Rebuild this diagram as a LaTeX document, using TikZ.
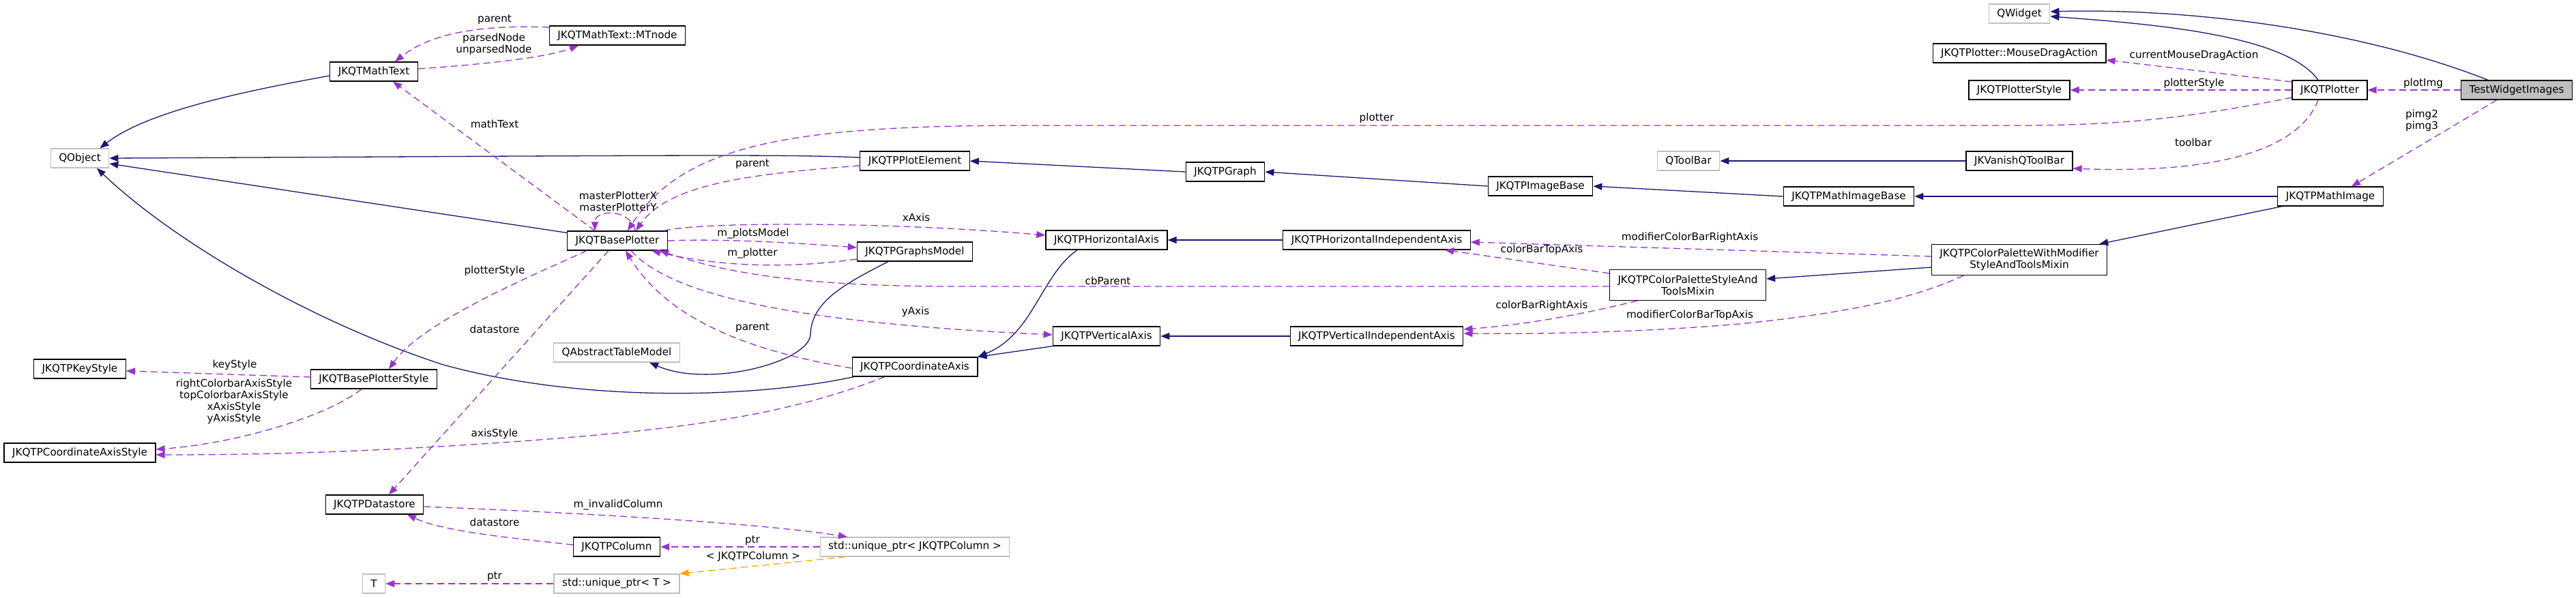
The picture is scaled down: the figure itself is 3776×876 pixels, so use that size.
\documentclass[tikz,border=0pt]{standalone}
\usepackage{fontspec}
\newfontfamily\dvsans{DejaVu Sans}
\usetikzlibrary{arrows.meta}
\definecolor{inhblue}{HTML}{191970}
\definecolor{usepurple}{HTML}{9A32CD}
\definecolor{tplorange}{HTML}{FFA500}
\definecolor{undocgrey}{HTML}{BFBFBF}
\newcommand{\dotfont}{\dvsans\fontsize{15.2}{17}\selectfont}
\begin{document}
\begin{tikzpicture}[x=1pt,y=-1pt,every node/.style={font=\dotfont},
  cls/.style={draw=black,line width=1.3pt,fill=white,minimum height=28pt,inner xsep=12pt,inner ysep=2pt,align=center},
  twoline/.style={cls,minimum height=45pt},
  undoc/.style={cls,draw=undocgrey},
  root/.style={cls,fill=undocgrey},
  lbl/.style={inner sep=0pt,align=center},
  inherit/.style={-{Triangle[length=13pt,width=10pt]},line width=1.3pt,draw=inhblue},
  uses/.style={-{Triangle[length=13pt,width=10pt]},line width=1.3pt,draw=usepurple,dash pattern=on 10pt off 6pt},
  tpl/.style={uses,draw=tplorange}]
\fill[white] (0,0) rectangle (3776,876);
\useasboundingbox (0,0) rectangle (3776,876);
% classes
\node[undoc] (qwidget) at (2960,20) {QWidget};
\node[cls] (mda) at (2960,78) {JKQTPlotter::MouseDragAction};
\node[cls] (jpstyle) at (2960,132) {JKQTPlotterStyle};
\node[cls] (jplotter) at (3415,132) {JKQTPlotter};
\node[root] (twi) at (3689,132) {TestWidgetImages};
\node[cls] (vtb) at (2960,236) {JKVanishQToolBar};
\node[undoc] (qtb) at (2475,236) {QToolBar};
\node[cls] (mimg) at (3416,288) {JKQTPMathImage};
\node[cls] (mimgbase) at (2710,288) {JKQTPMathImageBase};
\node[cls] (imgbase) at (2258,273) {JKQTPImageBase};
\node[cls] (graph) at (1796,252) {JKQTPGraph};
\node[cls] (plotel) at (1341,236) {JKQTPPlotElement};
\node[cls] (mtext) at (548,105) {JKQTMathText};
\node[cls] (mtnode) at (905,52) {JKQTMathText::MTnode};
\node[undoc] (qobject) at (117,232) {QObject};
\node[cls] (bplot) at (905,353) {JKQTBasePlotter};
\node[cls] (gmodel) at (1341,369) {JKQTPGraphsModel};
\node[cls] (haxis) at (1622,352) {JKQTPHorizontalAxis};
\node[cls] (hindep) at (2018,352) {JKQTPHorizontalIndependentAxis};
\node[twoline] (cpmod) at (2960,381) {JKQTPColorPaletteWithModifier\\StyleAndToolsMixin};
\node[twoline] (cpstyle) at (2474,418) {JKQTPColorPaletteStyleAnd\\ToolsMixin};
\node[cls] (vindep) at (2018,493) {JKQTPVerticalIndependentAxis};
\node[cls] (vaxis) at (1622,493) {JKQTPVerticalAxis};
\node[cls] (caxis) at (1341,538) {JKQTPCoordinateAxis};
\node[undoc] (atm) at (904,517) {QAbstractTableModel};
\node[cls] (bpstyle) at (548,556) {JKQTBasePlotterStyle};
\node[cls] (keystyle) at (117,541) {JKQTPKeyStyle};
\node[cls] (castyle) at (117,664) {JKQTPCoordinateAxisStyle};
\node[cls] (dstore) at (549,740) {JKQTPDatastore};
\node[cls] (column) at (904,802) {JKQTPColumn};
\node[undoc] (upcol) at (1341,802) {std::unique\_ptr< JKQTPColumn >};
\node[undoc] (upt) at (904,856) {std::unique\_ptr< T >};
\node[undoc] (tnode) at (548,856) {T};
% inheritance
\draw[inherit] ([yshift=-6pt]mtext.west) .. controls (380,130) and (220,160) .. ([xshift=-14pt]qobject.north east);
\draw[inherit] ([yshift=-3pt]bplot.north west) -- ([yshift=-8pt]qobject.east);
\draw[inherit] ([yshift=5pt]plotel.west) .. controls (1150,226) and (1000,228) .. (qobject.east);
\draw[inherit] ([xshift=3pt]caxis.south west) .. controls (1100,585) and (850,590) .. (650,535) .. controls (450,470) and (250,350) .. ([xshift=25pt]qobject.south);
\draw[inherit] (graph.west) -- (plotel.east);
\draw[inherit] (imgbase.west) -- (graph.east);
\draw[inherit] (mimgbase.west) -- (imgbase.east);
\draw[inherit] (mimg.west) -- (mimgbase.east);
\draw[inherit] ([xshift=7pt]mimg.south west) -- ([xshift=-12pt]cpmod.north east);
\draw[inherit] ([yshift=-11pt]cpmod.west) -- ([yshift=9pt]cpstyle.east);
\draw[inherit] (vtb.west) -- (qtb.east);
\draw[inherit] (hindep.west) -- (haxis.east);
\draw[inherit] (vindep.west) -- (vaxis.east);
\draw[inherit] ([xshift=-43pt]haxis.south) .. controls (1525,405) and (1515,490) .. (caxis.north east);
\draw[inherit] (vaxis.south west) -- (caxis.north east);
\draw[inherit] ([xshift=-39pt]gmodel.south) .. controls (1230,420) and (1190,445) .. (1188,490) .. controls (1188,530) and (1040,570) .. ([xshift=48pt]atm.south);
\draw[inherit] ([xshift=-42pt]twi.north) .. controls (3450,40) and (3200,12) .. ([yshift=3pt]qwidget.east);
\draw[inherit] ([xshift=-17pt]jplotter.north) .. controls (3350,50) and (3150,35) .. ([yshift=-4pt]qwidget.east);
% usage
\draw[uses] (twi.west) -- (jplotter.east);
\draw[uses] (jplotter.west) -- (jpstyle.east);
\draw[uses] ([yshift=12pt]jplotter.west) -- ([yshift=-10pt]mda.east);
\draw[uses] ([yshift=-11pt]jplotter.west) .. controls (3200,175) and (3100,184) .. (2950,184) -- (1500,184) .. controls (1150,184) and (1000,215) .. ([xshift=15pt]bplot.north);
\draw[uses] ([xshift=-17pt]jplotter.south) .. controls (3370,220) and (3250,255) .. ([yshift=-11pt]vtb.east);
\draw[uses] ([xshift=-29pt]twi.south) -- ([xshift=31pt]mimg.north);
\draw[uses] ([yshift=-7pt]plotel.west) .. controls (1100,255) and (980,270) .. ([xshift=27pt]bplot.north);
\draw[uses] ([yshift=12pt]mtnode.west) .. controls (700,36) and (630,50) .. ([xshift=31pt]mtext.north);
\draw[uses] ([yshift=4pt]mtext.east) .. controls (700,95) and (800,85) .. ([xshift=-57pt]mtnode.south);
\draw[uses] ([xshift=-33pt]bplot.north) -- ([xshift=28pt]mtext.south);
\draw[uses] ([xshift=26pt]bplot.north) .. controls (925,306) and (872,306) .. ([xshift=-33pt]bplot.north);
\draw[uses] (bplot.east) .. controls (1050,350) and (1150,355) .. ([yshift=6pt]gmodel.west);
\draw[uses] ([yshift=-11pt]gmodel.west) .. controls (1150,395) and (1050,390) .. ([xshift=-24pt]bplot.south east);
\draw[uses] ([yshift=-2pt]cpstyle.west) -- (1400,420) .. controls (1150,420) and (1050,395) .. ([xshift=-12pt]bplot.south east);
\draw[uses] ([xshift=-6pt]bplot.north east) .. controls (1030,325) and (1300,325) .. ([yshift=7pt]haxis.west);
\draw[uses] ([xshift=20pt]bplot.south) .. controls (990,440) and (1200,475) .. ([yshift=2pt]vaxis.west);
\draw[uses] ([yshift=-2pt]caxis.west) .. controls (1100,515) and (980,470) .. ([xshift=12pt]bplot.south);
\draw[uses] ([xshift=-45pt]bplot.south) .. controls (790,400) and (620,470) .. ([xshift=22pt]bpstyle.north);
\draw[uses] ([xshift=-13pt]bplot.south) -- ([xshift=21pt]dstore.north);
\draw[uses] ([yshift=3pt]bpstyle.west) -- ([yshift=-3pt]keystyle.east);
\draw[uses] ([xshift=-18pt]bpstyle.south) .. controls (480,610) and (350,650) .. ([yshift=5pt]castyle.east);
\draw[uses] ([xshift=-44pt]caxis.south) .. controls (1150,610) and (1000,630) .. (750,648) .. controls (550,662) and (400,667) .. ([yshift=-3pt]castyle.east);
\draw[uses] ([yshift=-3pt]dstore.east) .. controls (800,750) and (1100,765) .. ([xshift=-99pt]upcol.north);
\draw[uses] ([yshift=3pt]column.west) .. controls (760,790) and (650,780) .. ([xshift=48pt]dstore.south);
\draw[uses] (upcol.west) -- (column.east);
\draw[uses] (upt.west) -- (tnode.east);
\draw[tpl] ([xshift=-102pt]upcol.south) -- (upt.north east);
\draw[uses] ([yshift=5pt]cpmod.west) -- ([yshift=-3pt]hindep.east);
\draw[uses] ([yshift=-6pt]cpstyle.north west) -- ([xshift=100pt]hindep.south);
\draw[uses] ([xshift=-74pt]cpstyle.south) .. controls (2330,458) and (2250,475) .. ([yshift=10pt]vindep.east);
\draw[uses] ([xshift=-82pt]cpmod.south) .. controls (2800,440) and (2700,460) .. (2550,475) .. controls (2400,488) and (2250,490) .. ([yshift=4pt]vindep.east);
% edge labels
\node[lbl] (lparentmt) at (725,29) {parent};
\node[lbl] (lparsed) at (724,65) {parsedNode\\unparsedNode};
\node[lbl] (lmathtext) at (725,182) {mathText};
\node[lbl] (lmaster) at (906,295) {masterPlotterX\\masterPlotterY};
\node[lbl] (lpstyleb) at (725,397) {plotterStyle};
\node[lbl] (lparentpe) at (1103,241) {parent};
\node[lbl] (lxaxis) at (1343,319) {xAxis};
\node[lbl] (lplotsmodel) at (1104,343) {m\_plotsModel};
\node[lbl] (lmplotter) at (1103,372) {m\_plotter};
\node[lbl] (lcbparent) at (1624,412) {cbParent};
\node[lbl] (lplotter) at (2018,173) {plotter};
\node[lbl] (lmodright) at (2477,348) {modifierColorBarRightAxis};
\node[lbl] (lcbtop) at (2260,366) {colorBarTopAxis};
\node[lbl] (lcbright) at (2260,448) {colorBarRightAxis};
\node[lbl] (lmodtop) at (2477,462) {modifierColorBarTopAxis};
\node[lbl] (lcurmda) at (3216,81) {currentMouseDragAction};
\node[lbl] (lpstylej) at (3216,122) {plotterStyle};
\node[lbl] (lplotimg) at (3552,122) {plotImg};
\node[lbl] (lpimg) at (3550,177) {pimg2\\pimg3};
\node[lbl] (ltoolbar) at (3215,209) {toolbar};
\node[lbl] (lyaxis) at (1342,457) {yAxis};
\node[lbl] (lparentca) at (1103,481) {parent};
\node[lbl] (ldstoreb) at (725,483) {datastore};
\node[lbl] (lkeystyle) at (344,535) {keyStyle};
\node[lbl] (laxisstyles) at (343,589) {rightColorbarAxisStyle\\topColorbarAxisStyle\\xAxisStyle\\yAxisStyle};
\node[lbl] (laxisstyle) at (725,636) {axisStyle};
\node[lbl] (linvalid) at (906,741) {m\_invalidColumn};
\node[lbl] (ldstorec) at (725,766) {datastore};
\node[lbl] (lptrcol) at (1103,793) {ptr};
\node[lbl] (ltplarg) at (1104,816) {< JKQTPColumn >};
\node[lbl] (lptrt) at (725,846) {ptr};
\end{tikzpicture}
\end{document}
